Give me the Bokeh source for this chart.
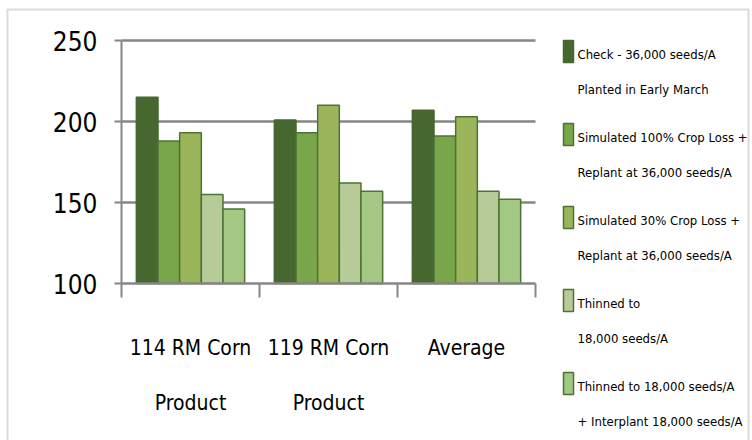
from bokeh.plotting import figure
from bokeh.models import (Range1d, ColumnDataSource, LinearAxis, FixedTicker,
                          BoxAnnotation)
from bokeh.core.properties import value
from bokeh.transform import dodge
from bokeh.embed import file_html
from bokeh.resources import INLINE

# ---- data ----
categories = ["114 RM Corn Product", "119 RM Corn Product", "Average"]
category_labels = ["114 RM Corn\nProduct", "119 RM Corn\nProduct", "Average"]
check = [215, 201, 207]
loss100 = [188, 193, 191]
loss30 = [193, 210, 203]
thinned = [155, 162, 157]
interplant = [146, 157, 152]
series_labels = [
    ["Check - 36,000 seeds/A", "Planted in Early March"],
    ["Simulated 100% Crop Loss +", "Replant at 36,000 seeds/A"],
    ["Simulated 30% Crop Loss +", "Replant at 36,000 seeds/A"],
    ["Thinned to", "18,000 seeds/A"],
    ["Thinned to 18,000 seeds/A", "+ Interplant 18,000 seeds/A"],
]
y_ticks = [100, 150, 200, 250]
y_min, y_max = 100, 250

# ---- style / layout ----
FONT = "DejaVu Sans Condensed"
GRAY = "#868686"
fills = ["#466830", "#7aa64b", "#9bb65a", "#b6cb98", "#a3c884"]
lines = ["#466830", "#4e7233", "#4e7233", "#4e7233", "#4e7233"]
cols = ["check", "loss100", "loss30", "thinned", "interplant"]
bar_w = 0.157
offsets = [-2 * bar_w, -bar_w, 0, bar_w, 2 * bar_w]

W, H = 752, 440
L, R, T, B = 121, 535, 40, 283          # pixel box of the plotting area
n = len(categories)
kx = (R - L) / n                        # px per x unit
ky = (B - T) / (y_max - y_min)          # px per y unit
x0, x1 = -L / kx, (W - L) / kx
y0, y1 = y_min - (H - B) / ky, y_max + T / ky


def dx(px):
    return x0 + px / kx


def dy(py):
    return y1 - py / ky


centers = [i + 0.5 for i in range(n)]
src = ColumnDataSource(dict(x=centers, cat=categories, check=check, loss100=loss100,
                            loss30=loss30, thinned=thinned, interplant=interplant))

p = figure(width=W, height=H, x_range=Range1d(x0, x1), y_range=Range1d(y0, y1),
           output_backend="svg", toolbar_location=None,
           min_border=0, x_axis_location=None, y_axis_location=None)
p.outline_line_color = None
p.background_fill_color = "white"
p.border_fill_color = "white"
p.xgrid.visible = False
p.ygrid.visible = False

# grid lines limited to the plotting area
grid_y = [t for t in y_ticks if t > y_min]
p.segment(x0=[0] * len(grid_y), x1=[n] * len(grid_y), y0=grid_y, y1=grid_y,
          line_color=GRAY, line_width=2.5)

for i, c in enumerate(cols):
    p.vbar(x=dodge("x", offsets[i]), top=c, bottom=y_min,
           width=bar_w, source=src, fill_color=fills[i], line_color=lines[i],
           line_width=1.5)

# y axis
ya = LinearAxis(ticker=FixedTicker(ticks=y_ticks), fixed_location=0,
                bounds=(y_min, y_max))
ya.axis_line_color = GRAY
ya.axis_line_width = 2
ya.major_tick_line_color = GRAY
ya.major_tick_line_width = 2
ya.major_tick_out = 7
ya.major_tick_in = 0
ya.minor_tick_line_color = None
ya.major_label_text_font = FONT
ya.major_label_text_font_size = "26px"
ya.major_label_text_color = "black"
ya.major_label_standoff = 17
p.add_layout(ya, "left")

# x axis: category labels at centres, tick marks at category boundaries
xc = LinearAxis(ticker=FixedTicker(ticks=centers, minor_ticks=list(range(n + 1))),
                fixed_location=y_min, bounds=(0, n))
xc.axis_line_color = GRAY
xc.axis_line_width = 2.5
xc.major_tick_line_color = None
xc.major_tick_out = 0
xc.major_tick_in = 0
xc.minor_tick_line_color = GRAY
xc.minor_tick_line_width = 2
xc.minor_tick_out = 14
xc.minor_tick_in = 0
xc.major_label_overrides = dict(zip(centers, category_labels))
xc.major_label_text_font = FONT
xc.major_label_text_font_size = "21px"
xc.major_label_text_line_height = 2.3
xc.major_label_text_color = "black"
xc.major_label_standoff = 38
p.add_layout(xc, "below")

# legend (drawn manually to reproduce the two-line entries)
LEG_X, LEG_Y0, LEG_STEP, LINE_STEP = 563, 54, 83, 35
tx, ty, tt = [], [], []
for i, lab in enumerate(series_labels):
    for j, line in enumerate(lab):
        tx.append(dx(LEG_X + 14))
        ty.append(dy(LEG_Y0 + i * LEG_STEP + j * LINE_STEP))
        tt.append(line)
p.text(x=tx, y=ty, text=tt, text_font=value(FONT), text_font_size="13px",
       text_baseline="middle", text_align="left", text_color="black")
p.quad(left=[dx(LEG_X)] * len(cols), right=[dx(LEG_X + 10)] * len(cols),
       top=[dy(LEG_Y0 + i * LEG_STEP - 14) for i in range(len(cols))],
       bottom=[dy(LEG_Y0 + i * LEG_STEP + 8) for i in range(len(cols))],
       fill_color=fills, line_color=lines, line_width=1.5)

# outer chart border
p.add_layout(BoxAnnotation(left=dx(7), right=dx(748), top=dy(9), bottom=dy(H + 10),
                           fill_color=None, line_color=GRAY, line_width=2))

open("out.html", "w").write(file_html(p, INLINE))
